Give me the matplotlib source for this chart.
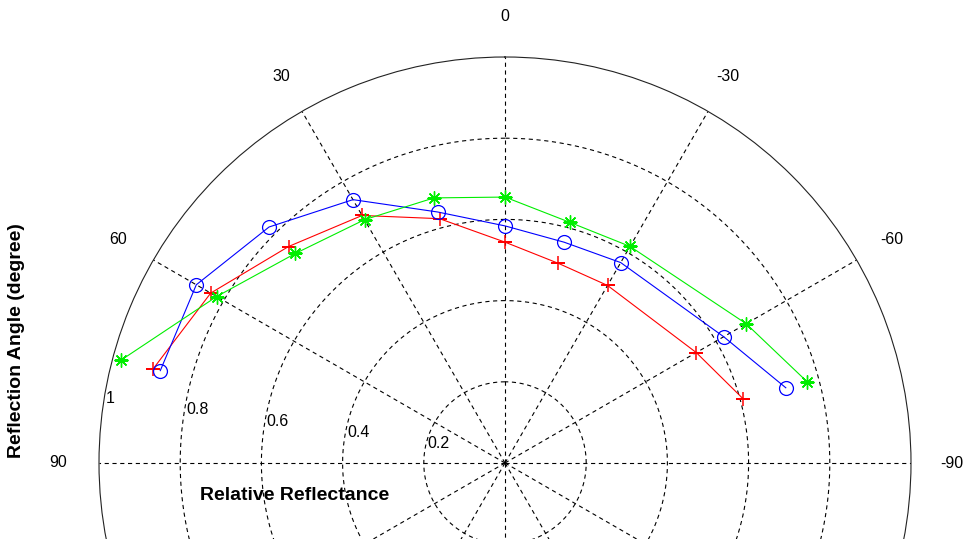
import numpy as np
import matplotlib
matplotlib.use("Agg")
import matplotlib.pyplot as plt
import matplotlib.transforms as mtransforms

plt.rcParams['font.family'] = ['Liberation Sans', 'DejaVu Sans']
plt.rcParams['lines.scale_dashes'] = False

# Reflection angles (degrees) and relative reflectance for three samples
angles_deg = [75, 60, 45, 30, 15, 0, -15, -30, -60, -75]
reflect_red = [0.897, 0.837, 0.754, 0.704, 0.623, 0.544, 0.509, 0.505, 0.544, 0.608]
reflect_blue = [0.879, 0.878, 0.822, 0.749, 0.640, 0.584, 0.563, 0.570, 0.622, 0.716]
reflect_green = [0.979, 0.820, 0.730, 0.692, 0.676, 0.655, 0.614, 0.616, 0.686, 0.771]

ring_values = [0.2, 0.4, 0.6, 0.8]
ring_labels = ['0.2', '0.4', '0.6', '0.8', '1']
spoke_angles = list(range(0, 360, 30))
angle_tick_pos = [0, 30, 60, 90, -30, -60, -90]
angle_tick_labels = ['0', '30', '60', '90', '-30', '-60', '-90']

W, H = 963, 539
fig = plt.figure(figsize=(W / 100, H / 100), dpi=100)
cx, cy, R = 505, 463, 406
ax = fig.add_axes([(cx - R) / W, (H - cy - R) / H, 2 * R / W, 2 * R / H],
                  projection='polar')
ax.set_theta_zero_location('N')
ax.set_theta_direction(1)
ax.set_ylim(0, 1)
ax.set_xticks([])
ax.set_yticks([])
ax.grid(False)
ax.spines['polar'].set_linewidth(0.8)
ax.spines['polar'].set_color('#222222')

dash = (0, (3, 2.6))
tt = np.linspace(0, 2 * np.pi, 721)
for rv in ring_values:
    ax.plot(tt, np.full_like(tt, rv), color='black', lw=0.8, linestyle=dash)
for a in spoke_angles:
    th = np.deg2rad(a)
    ax.plot([th, th], [0, 1], color='black', lw=0.8, linestyle=dash)

th = np.deg2rad(angles_deg)
ax.plot(th, reflect_red, color='#ff0000', lw=0.8, marker='+', ms=10.5, mew=1.1)
ax.plot(th, reflect_blue, color='#0000ff', lw=0.8, marker='o', ms=10,
        mfc='none', mew=0.9)
ax.plot(th, reflect_green, color='#00ee00', lw=0.8, marker=(8, 2, 0), ms=10,
        mew=1.0)

for pos, lab in zip(angle_tick_pos, angle_tick_labels):
    ax.text(np.deg2rad(pos), 1.1, lab, ha='center', va='center',
            fontsize=11.5, clip_on=False)

shift = mtransforms.offset_copy(ax.transData, fig=fig, x=7, y=0, units='dots')
for rv, lab in zip(ring_values + [1.0], ring_labels):
    ax.text(np.deg2rad(82), rv + 0.01, lab, ha='left', va='bottom',
            fontsize=11.5, transform=shift, clip_on=False)

fig.text(295 / W, 1 - 495 / H, 'Relative Reflectance', ha='center', va='center',
         fontsize=14, fontweight='bold')
fig.text(17 / W, 1 - 341 / H, 'Reflection Angle (degree)', ha='center',
         va='center', rotation=90, fontsize=14, fontweight='bold')

fig.savefig('out.png', dpi=100, facecolor='white')
